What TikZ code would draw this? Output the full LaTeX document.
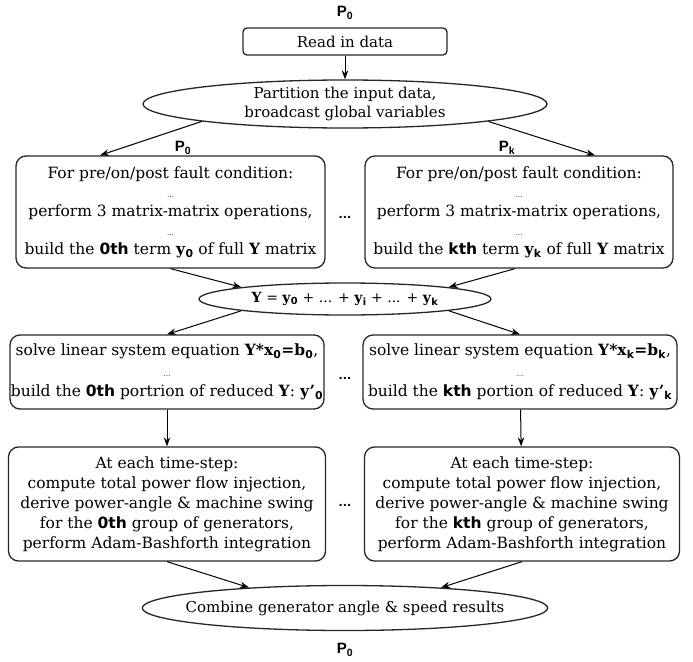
\documentclass[tikz,border=0pt]{standalone}
\usepackage{fontspec}
\setmainfont{DejaVu Serif}
\newfontfamily\labelfont{Liberation Sans}
\newfontfamily\numfont{DejaVu Sans}
\usepackage{tikz}
\usetikzlibrary{positioning, arrows, arrows.meta, shapes, calc}
\usetikzlibrary{shapes.geometric,arrows}
\tikzstyle{arrow} = [line width=1pt,->,>={Stealth[length=9pt,width=6.5pt]}]
\tikzstyle{readbox} = [rectangle, rounded corners=4pt, minimum width=204pt, minimum height=27pt, inner sep=0pt, text centered, draw=black!85, line width=1.3pt, font=\fontsize{15}{19}\selectfont]
\tikzstyle{task} = [rectangle, rounded corners=10pt, inner sep=0pt, text centered, align=center, draw=black!85, line width=1.3pt, font=\fontsize{15.5}{19}\selectfont]
\tikzstyle{phase} = [ellipse, inner sep=0pt, text centered, align=center, draw=black!85, line width=1.3pt, font=\fontsize{15}{19}\selectfont]
\tikzstyle{proclabel} = [font=\labelfont\bfseries\fontsize{15}{15}\selectfont]
\tikzstyle{gap} = [font=\numfont\bfseries\fontsize{11}{11}\selectfont]

\newcommand{\procP}[1]{P\textsubscript{#1}}
\newcommand{\ordth}[1]{{\numfont\bfseries #1th}}
\newcommand{\bvar}[2]{\textbf{#1}\textsubscript{\numfont\bfseries #2}}
\newcommand{\skipdots}{{\fontsize{7}{7}\selectfont\ldots}}

\begin{document}
\begin{tikzpicture}
        \useasboundingbox (0,0) rectangle (693pt,-661pt);
        \node (p_top) [proclabel] at (345pt,-13pt) {\procP{0}};
        \node (read) [readbox, node distance=28.5pt, below of=p_top] {Read in data};
        \node (partition) [phase, minimum width=404pt, minimum height=48pt, node distance=62.5pt, below of=read] {Partition the input data,\\ broadcast global variables};
        \node (pre_zero) [task, minimum width=309pt, minimum height=112pt, node distance=108pt, below of=partition, xshift=-174.5pt] {For pre/on/post fault condition:\\ \skipdots\\ perform 3 matrix-matrix operations,\\ \skipdots\\ build the \ordth{0} term \bvar{y}{0} of full \textbf{Y} matrix};
        \node (pre_k) [task, minimum width=308pt, minimum height=112pt, node distance=348.5pt, right of=pre_zero] {For pre/on/post fault condition:\\ \skipdots\\ perform 3 matrix-matrix operations,\\ \skipdots\\ build the \ordth{k} term \bvar{y}{k} of full \textbf{Y} matrix};
        \node (gap_pre) [gap, node distance=174.5pt, right of=pre_zero, yshift=-5pt] {...};
        \node (p_zero) [proclabel, node distance=64pt, above of=pre_zero, xshift=12.5pt] {\procP{0}};
        \node (p_k) [proclabel, node distance=64pt, above of=pre_k, xshift=-12pt] {\procP{k}};
        \node (ysum) [phase, minimum width=292pt, minimum height=32pt, font=\fontsize{14}{16}\selectfont, node distance=195pt, below of=partition] {\textbf{Y} = \bvar{y}{0} + ... + \bvar{y}{i} + ... + \bvar{y}{k}};
        \node (solve_zero) [task, minimum width=314pt, minimum height=74pt, node distance=160pt, below of=pre_zero, xshift=-3.5pt] {solve linear system equation \textbf{Y*}\bvar{x}{0}\textbf{=}\bvar{b}{0},\\[1.5pt] \skipdots\\[1.5pt] build the \ordth{0} portrion of reduced \textbf{Y}: \bvar{y'}{0}};
        \node (solve_k) [task, minimum width=314pt, minimum height=74pt, node distance=353pt, right of=solve_zero] {solve linear system equation \textbf{Y*}\bvar{x}{k}\textbf{=}\bvar{b}{k},\\[1.5pt] \skipdots\\[1.5pt] build the \ordth{k} portion of reduced \textbf{Y}: \bvar{y'}{k}};
        \node (gap_solve) [gap, node distance=178pt, right of=solve_zero, yshift=-6pt] {...};
        \node (step_zero) [task, minimum width=317pt, minimum height=114pt, font=\fontsize{15.5}{20}\selectfont, node distance=132pt, below of=solve_zero] {At each time-step:\\ compute total power flow injection,\\ derive power-angle \& machine swing\\ for the \ordth{0} group of generators,\\ perform Adam-Bashforth integration};
        \node (step_k) [task, minimum width=315pt, minimum height=114pt, font=\fontsize{15.5}{20}\selectfont, node distance=355pt, right of=step_zero] {At each time-step:\\ compute total power flow injection,\\ derive power-angle \& machine swing\\ for the \ordth{k} group of generators,\\ perform Adam-Bashforth integration};
        \node (gap_step) [gap, node distance=178pt, right of=step_zero, yshift=-1pt] {...};
        \node (combine) [phase, minimum width=404pt, minimum height=45pt, inner xsep=-16pt, node distance=309pt, below of=ysum] {Combine generator angle \& speed results};
        \node (p_bottom) [proclabel, node distance=42pt, below of=combine] {\procP{0}};

        \draw [arrow] (read) -- (partition);
        \draw [arrow] (partition.south west) -- ([xshift=-70.5pt]pre_zero.north);
        \draw [arrow] (partition.south east) -- ([xshift=76pt]pre_k.north);
        \draw [arrow] (pre_zero.south) -- (ysum.north west);
        \draw [arrow] ([xshift=-4pt]pre_k.south) -- (ysum.north east);
        \draw [arrow] (ysum.south west) -- (solve_zero.north);
        \draw [arrow] (ysum.south east) -- (solve_k.north);
        \draw [arrow] (solve_zero) -- (step_zero);
        \draw [arrow] (solve_k) -- (step_k);
        \draw [arrow] (step_zero.south) -- (combine.168);
        \draw [arrow] (step_k.south) -- (combine.12);
\end{tikzpicture}
\end{document}
